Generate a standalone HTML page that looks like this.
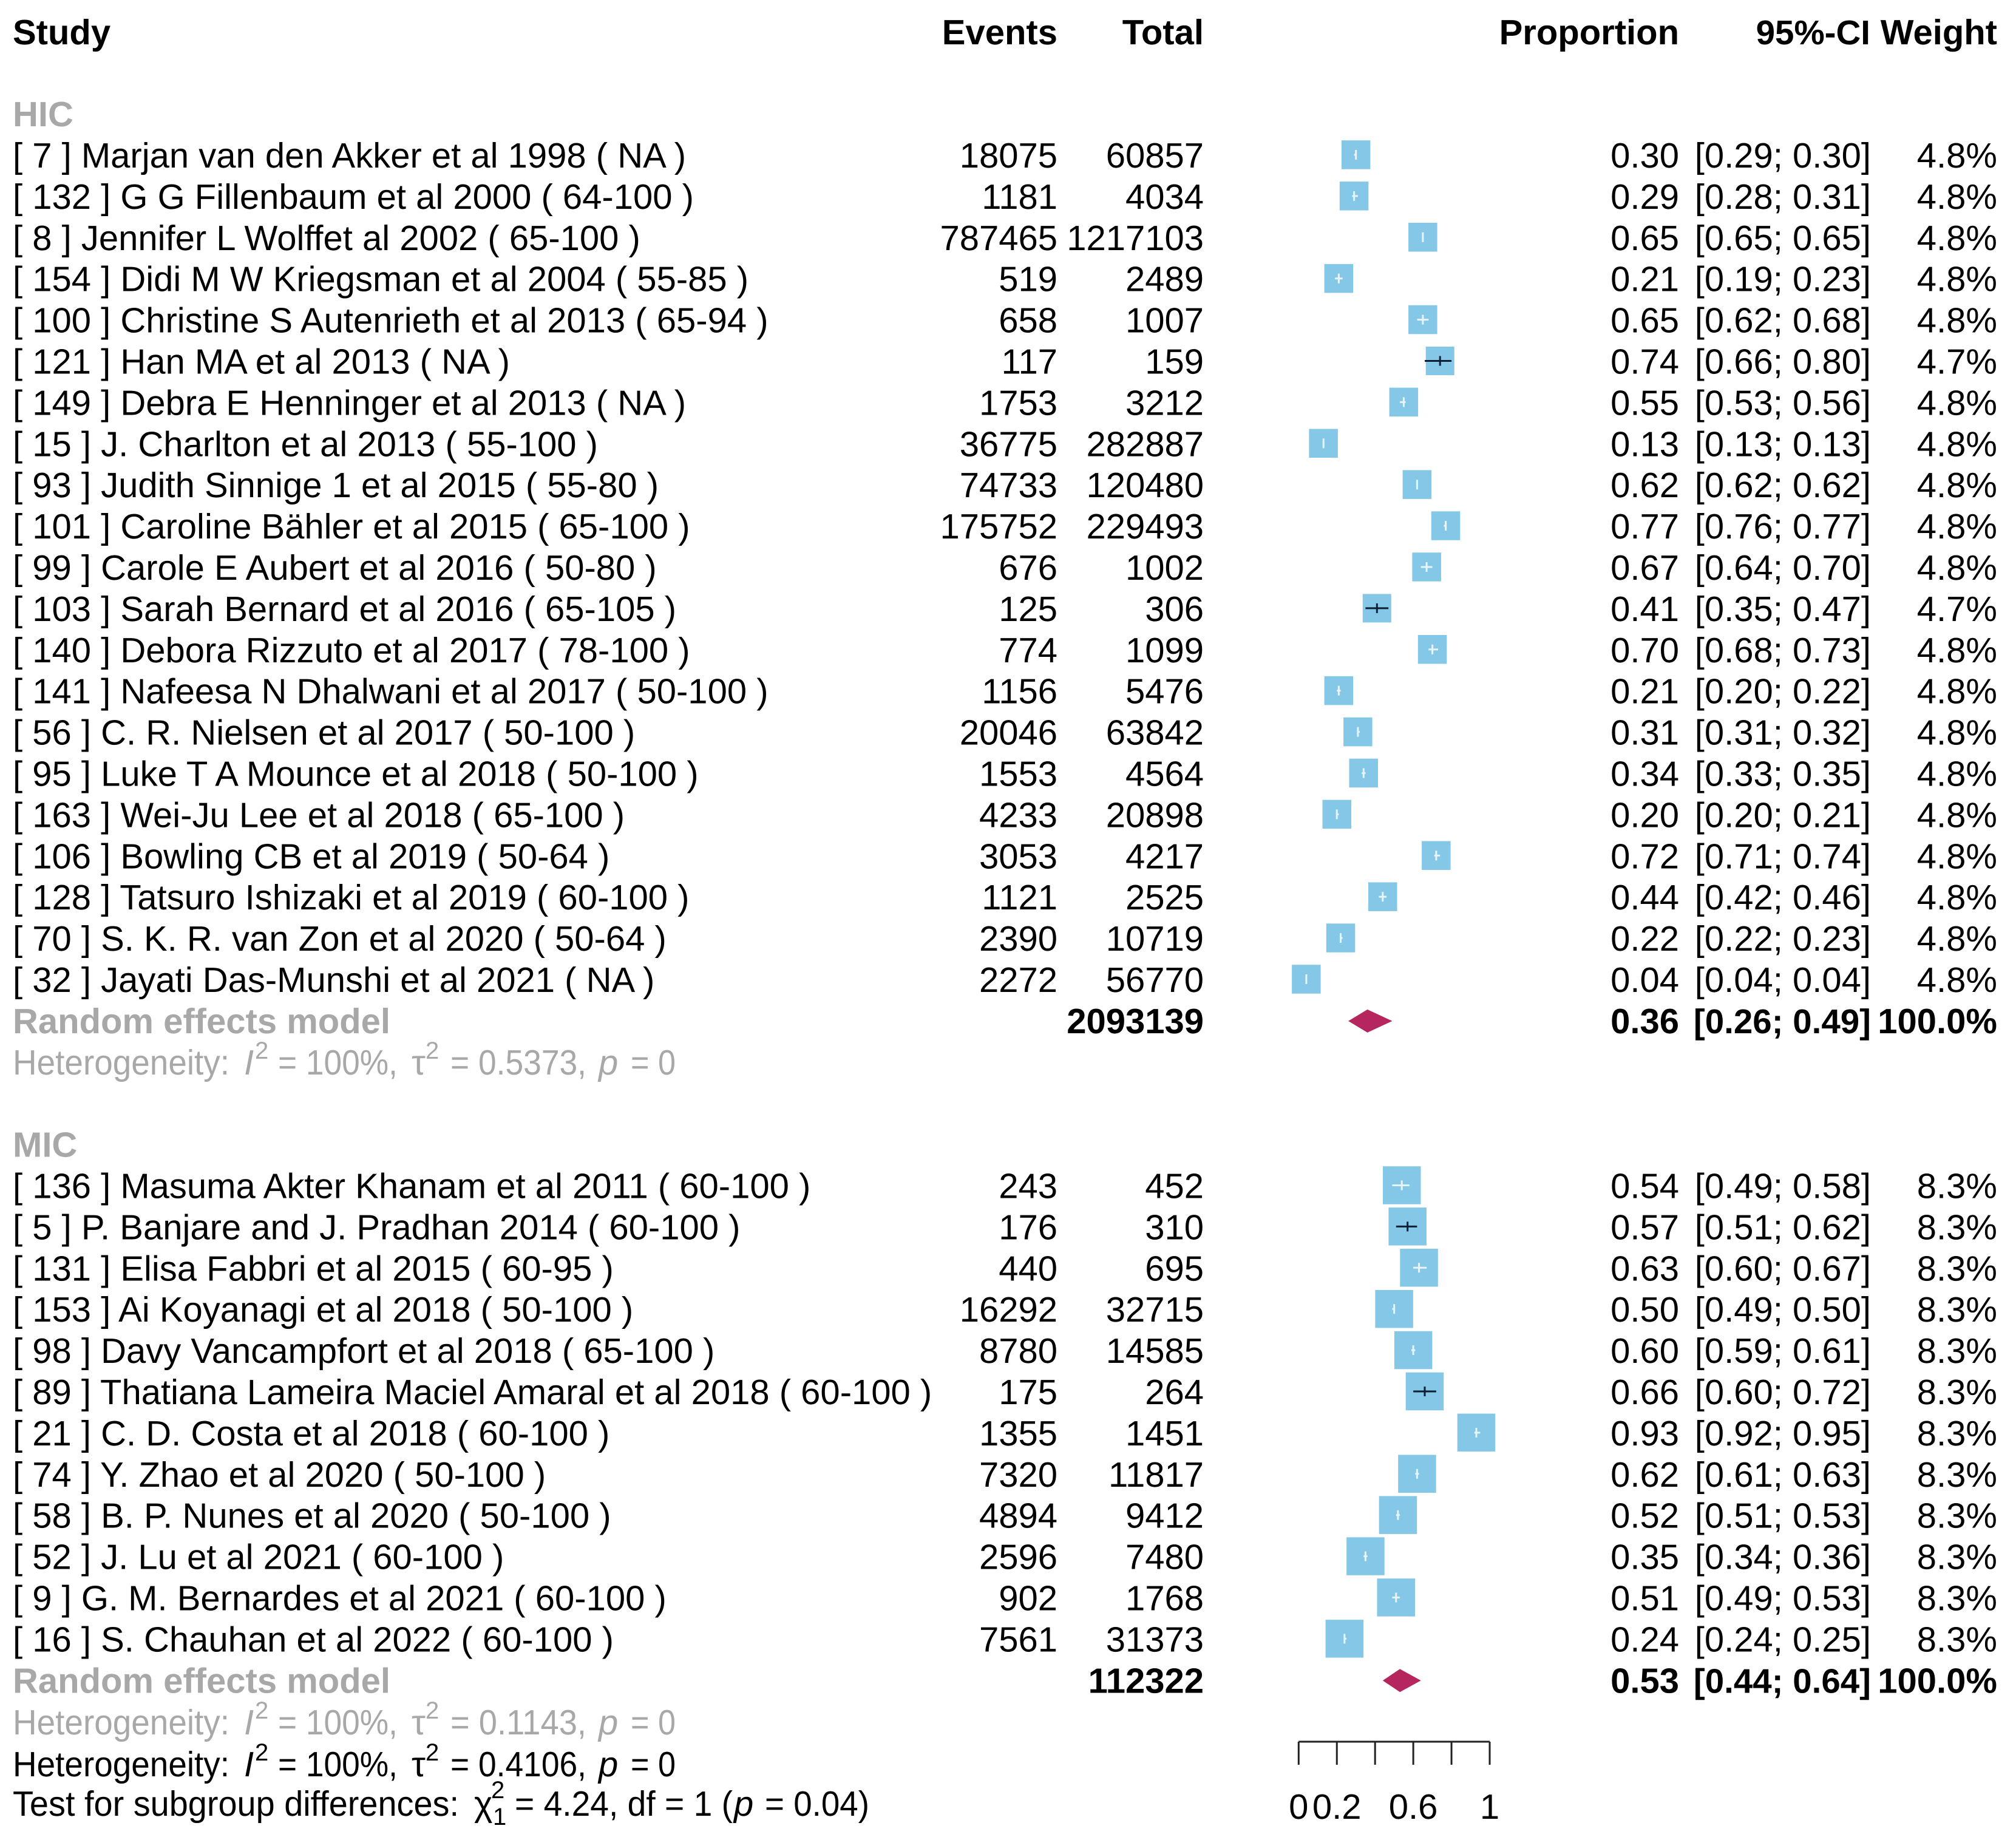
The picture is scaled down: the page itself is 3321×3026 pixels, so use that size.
<!DOCTYPE html>
<html lang="en">
<head>
<meta charset="utf-8">
<title>Forest plot of proportion by income group</title>
<style>
html,body{margin:0;padding:0;background:#fff;}
body{width:3321px;height:3026px;overflow:hidden;}
svg{display:block;}
text{font-family:"Liberation Sans",sans-serif;font-size:58px;fill:#000;text-rendering:geometricPrecision;}
.b{font-weight:bold;}
.g{fill:#a8a8a8;}
.i{font-style:italic;}
.s{font-size:40px;}
.e{text-anchor:end;}
.m{text-anchor:middle;}
.bc{font-size:56.5px;}
</style>
</head>
<body>
<svg id="chart" xmlns="http://www.w3.org/2000/svg" width="3321" height="3026" viewBox="0 0 3321 3026">
  <g>
    <text class="b" x="21" y="73">Study</text>
    <text class="b e" x="1742" y="73">Events</text>
    <text class="b e" x="1983" y="73">Total</text>
    <text class="b e" x="2766" y="73">Proportion</text>
    <text class="b e bc" x="3081" y="73">95%-CI</text>
    <text class="b e" x="3290" y="73">Weight</text>
  </g>
  <g>
    <text class="g" x="21" y="1770" textLength="357" lengthAdjust="spacingAndGlyphs">Heterogeneity:</text><text class="g i" x="402" y="1770">I</text><text class="g s" x="420" y="1744">2</text><text class="g" x="458" y="1770" textLength="197" lengthAdjust="spacingAndGlyphs">= 100%,</text><text class="g" x="678" y="1770">τ</text><text class="g s" x="701" y="1744">2</text><text class="g" x="742" y="1770" textLength="224" lengthAdjust="spacingAndGlyphs">= 0.5373,</text><text class="g i" x="986" y="1770">p</text><text class="g" x="1039" y="1770" textLength="74" lengthAdjust="spacingAndGlyphs">= 0</text>
  </g>
  <g>
    <text class="g" x="21" y="2857" textLength="357" lengthAdjust="spacingAndGlyphs">Heterogeneity:</text><text class="g i" x="402" y="2857">I</text><text class="g s" x="420" y="2831">2</text><text class="g" x="458" y="2857" textLength="197" lengthAdjust="spacingAndGlyphs">= 100%,</text><text class="g" x="678" y="2857">τ</text><text class="g s" x="701" y="2831">2</text><text class="g" x="742" y="2857" textLength="224" lengthAdjust="spacingAndGlyphs">= 0.1143,</text><text class="g i" x="986" y="2857">p</text><text class="g" x="1039" y="2857" textLength="74" lengthAdjust="spacingAndGlyphs">= 0</text>
  </g>
  <g>
    <text x="21" y="2926" textLength="357" lengthAdjust="spacingAndGlyphs">Heterogeneity:</text><text class="i" x="402" y="2926">I</text><text class="s" x="420" y="2900">2</text><text x="458" y="2926" textLength="197" lengthAdjust="spacingAndGlyphs">= 100%,</text><text x="678" y="2926">τ</text><text class="s" x="701" y="2900">2</text><text x="742" y="2926" textLength="224" lengthAdjust="spacingAndGlyphs">= 0.4106,</text><text class="i" x="986" y="2926">p</text><text x="1039" y="2926" textLength="74" lengthAdjust="spacingAndGlyphs">= 0</text>
  </g>
  <g>
    <text x="21" y="2991" textLength="735" lengthAdjust="spacingAndGlyphs">Test for subgroup differences:</text><text x="781" y="2991">χ</text><text class="s" x="809" y="2962">2</text><text class="s" x="812" y="3006">1</text><text x="848" y="2991" textLength="359" lengthAdjust="spacingAndGlyphs">= 4.24, df = 1 (</text><text class="i" x="1209" y="2991">p</text><text x="1260" y="2991" textLength="172" lengthAdjust="spacingAndGlyphs">= 0.04)</text>
  </g>
  <g id="rows"></g>
  <g id="marks"></g>
  <g id="axis"></g>
</svg>
<script>
const hicStudies = ["[ 7 ] Marjan van den Akker et al 1998 ( NA )","[ 132 ] G G Fillenbaum et al 2000 ( 64-100 )","[ 8 ] Jennifer L Wolffet al 2002 ( 65-100 )","[ 154 ] Didi M W Kriegsman et al 2004 ( 55-85 )","[ 100 ] Christine S Autenrieth et al 2013 ( 65-94 )","[ 121 ] Han MA et al 2013 ( NA )","[ 149 ] Debra E Henninger et al 2013 ( NA )","[ 15 ] J. Charlton et al 2013 ( 55-100 )","[ 93 ] Judith Sinnige 1 et al 2015 ( 55-80 )","[ 101 ] Caroline Bähler et al 2015 ( 65-100 )","[ 99 ] Carole E Aubert et al 2016 ( 50-80 )","[ 103 ] Sarah Bernard et al 2016 ( 65-105 )","[ 140 ] Debora Rizzuto et al 2017 ( 78-100 )","[ 141 ] Nafeesa N Dhalwani et al 2017 ( 50-100 )","[ 56 ] C. R. Nielsen et al 2017 ( 50-100 )","[ 95 ] Luke T A Mounce et al 2018 ( 50-100 )","[ 163 ] Wei-Ju Lee et al 2018 ( 65-100 )","[ 106 ] Bowling CB et al 2019 ( 50-64 )","[ 128 ] Tatsuro Ishizaki et al 2019 ( 60-100 )","[ 70 ] S. K. R. van Zon et al 2020 ( 50-64 )","[ 32 ] Jayati Das-Munshi et al 2021 ( NA )"];
const hicEvents = [18075,1181,787465,519,658,117,1753,36775,74733,175752,676,125,774,1156,20046,1553,4233,3053,1121,2390,2272];
const hicTotals = [60857,4034,1217103,2489,1007,159,3212,282887,120480,229493,1002,306,1099,5476,63842,4564,20898,4217,2525,10719,56770];
const hicProps = [0.30,0.29,0.65,0.21,0.65,0.74,0.55,0.13,0.62,0.77,0.67,0.41,0.70,0.21,0.31,0.34,0.20,0.72,0.44,0.22,0.04];
const hicLower = [0.29,0.28,0.65,0.19,0.62,0.66,0.53,0.13,0.62,0.76,0.64,0.35,0.68,0.20,0.31,0.33,0.20,0.71,0.42,0.22,0.04];
const hicUpper = [0.30,0.31,0.65,0.23,0.68,0.80,0.56,0.13,0.62,0.77,0.70,0.47,0.73,0.22,0.32,0.35,0.21,0.74,0.46,0.23,0.04];
const hicWeights = [4.8,4.8,4.8,4.8,4.8,4.7,4.8,4.8,4.8,4.8,4.8,4.7,4.8,4.8,4.8,4.8,4.8,4.8,4.8,4.8,4.8];
const micStudies = ["[ 136 ] Masuma Akter Khanam et al 2011 ( 60-100 )","[ 5 ] P. Banjare and J. Pradhan 2014 ( 60-100 )","[ 131 ] Elisa Fabbri et al 2015 ( 60-95 )","[ 153 ] Ai Koyanagi et al 2018 ( 50-100 )","[ 98 ] Davy Vancampfort et al 2018 ( 65-100 )","[ 89 ] Thatiana Lameira Maciel Amaral et al 2018 ( 60-100 )","[ 21 ] C. D. Costa et al 2018 ( 60-100 )","[ 74 ] Y. Zhao et al 2020 ( 50-100 )","[ 58 ] B. P. Nunes et al 2020 ( 50-100 )","[ 52 ] J. Lu et al 2021 ( 60-100 )","[ 9 ] G. M. Bernardes et al 2021 ( 60-100 )","[ 16 ] S. Chauhan et al 2022 ( 60-100 )"];
const micEvents = [243,176,440,16292,8780,175,1355,7320,4894,2596,902,7561];
const micTotals = [452,310,695,32715,14585,264,1451,11817,9412,7480,1768,31373];
const micProps = [0.54,0.57,0.63,0.50,0.60,0.66,0.93,0.62,0.52,0.35,0.51,0.24];
const micLower = [0.49,0.51,0.60,0.49,0.59,0.60,0.92,0.61,0.51,0.34,0.49,0.24];
const micUpper = [0.58,0.62,0.67,0.50,0.61,0.72,0.95,0.63,0.53,0.36,0.53,0.25];
const micWeights = [8.3,8.3,8.3,8.3,8.3,8.3,8.3,8.3,8.3,8.3,8.3,8.3];
const groupNames = ["HIC","MIC"];
const summaryTotals = [2093139,112322];
const summaryProps = [0.36,0.53];
const summaryLower = [0.26,0.44];
const summaryUpper = [0.49,0.64];
const tickValues = [0,0.2,0.4,0.6,0.8,1];
const tickLabels = ["0","0.2","","0.6","","1"];

const NS = "http://www.w3.org/2000/svg";
const rowsLayer = document.getElementById("rows");
const marksLayer = document.getElementById("marks");
const axisLayer = document.getElementById("axis");
function xScale(v){ return 2139.3 + v * 314.7; }
function yBase(r){ return 276 + r * 67.9; }
function yMid(r){ return yBase(r) - 21; }
function make(tag, parent, attrs, content){
  const el = document.createElementNS(NS, tag);
  for (const k in attrs) el.setAttribute(k, attrs[k]);
  if (content !== undefined) el.textContent = content;
  parent.appendChild(el);
  return el;
}
function addText(parent, x, r, content, cls){
  return make("text", parent, {x: x, y: yBase(r).toFixed(1), "class": cls}, content);
}
function ciText(lo, hi){ return "[" + lo.toFixed(2) + "; " + hi.toFixed(2) + "]"; }
function drawStudy(r, name, ev, tot, p, lo, hi, w){
  const row = make("g", rowsLayer, {});
  
  
  addText(row, 21, r, name, "");
  addText(row, 1742, r, String(ev), "e");
  addText(row, 1983, r, String(tot), "e");
  addText(row, 2766, r, p.toFixed(2), "e");
  addText(row, 3082, r, ciText(lo, hi), "e");
  addText(row, 3290, r, w.toFixed(1) + "%", "e");
  const size = 21.7 * Math.sqrt(w);
  const cy = yMid(r);
  const square = make("rect", marksLayer, {x: (xScale(p) - size / 2).toFixed(1), y: (cy - size / 2).toFixed(1), width: size.toFixed(1), height: size.toFixed(1), fill: "#85c7e6"});
  
  
  const wide = hi - lo > 0.1;
  const ink = wide ? "#0a1f33" : "#e6f4fb";
  const ciLine = make("line", marksLayer, {x1: xScale(lo).toFixed(1), x2: xScale(hi).toFixed(1), y1: cy.toFixed(1), y2: cy.toFixed(1), stroke: ink, "stroke-width": 3});
  
  
  const tick = make("line", marksLayer, {x1: xScale(p).toFixed(1), x2: xScale(p).toFixed(1), y1: (cy - 8).toFixed(1), y2: (cy + 8).toFixed(1), stroke: ink, "stroke-width": 3});
  
  
}
function drawGroup(start, idx, names, ev, tot, p, lo, hi, w){
  const label = addText(rowsLayer, 21, start - 1, groupNames[idx], "b g");
  
  
  names.forEach(function(n, i){ drawStudy(start + i, n, ev[i], tot[i], p[i], lo[i], hi[i], w[i]); });
  const r = start + names.length;
  const sum = make("g", rowsLayer, {});
  
  
  addText(sum, 21, r, "Random effects model", "b g");
  addText(sum, 1983, r, String(summaryTotals[idx]), "b e");
  addText(sum, 2766, r, summaryProps[idx].toFixed(2), "b e");
  addText(sum, 3082, r, ciText(summaryLower[idx], summaryUpper[idx]), "b e bc");
  addText(sum, 3290, r, "100.0%", "b e");
  const cy = yBase(r) - 20;
  const pts = [[xScale(summaryLower[idx]), cy], [xScale(summaryProps[idx]), cy - 19], [xScale(summaryUpper[idx]), cy], [xScale(summaryProps[idx]), cy + 19]];
  const diamond = make("polygon", marksLayer, {points: pts.map(function(q){ return q[0].toFixed(1) + "," + q[1].toFixed(1); }).join(" "), fill: "#b5265f"});
  
  
}
drawGroup(0, 0, hicStudies, hicEvents, hicTotals, hicProps, hicLower, hicUpper, hicWeights);
drawGroup(25, 1, micStudies, micEvents, micTotals, micProps, micLower, micUpper, micWeights);

const axisLine = make("line", axisLayer, {x1: xScale(tickValues[0]), x2: xScale(tickValues[tickValues.length - 1]), y1: 2869, y2: 2869, stroke: "#222", "stroke-width": 3});


tickValues.forEach(function(v, i){
  const t = make("line", axisLayer, {x1: xScale(v), x2: xScale(v), y1: 2869, y2: 2907, stroke: "#222", "stroke-width": 3});
  
  
  if (tickLabels[i]) {
    const l = make("text", axisLayer, {x: xScale(v), y: 2996, "class": "m"}, tickLabels[i]);
    
    
  }
});
</script>
</body>
</html>
